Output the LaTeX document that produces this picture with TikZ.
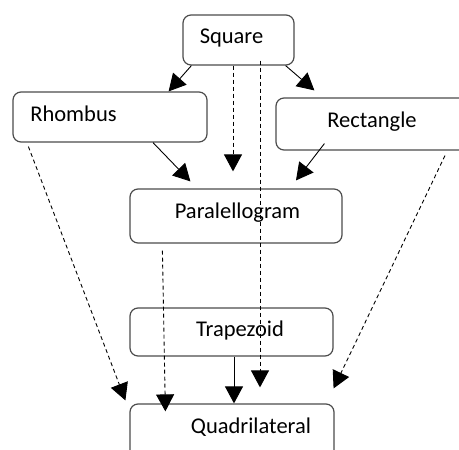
\documentclass[tikz,border=0pt]{standalone}
\usepackage{fontspec}
\setmainfont{Carlito}
\usetikzlibrary{calc,positioning,arrows.meta}

\begin{document}
\begin{tikzpicture}[x=1pt,y=-1pt,
  box/.style={rectangle, draw=black!70, line width=1.2pt, rounded corners=8pt, inner sep=0pt},
  lbl/.style={font=\fontsize{22.5}{27}\selectfont, text=black},
  arr/.style={-{Triangle[length=17pt,width=18pt]}, line width=0.9pt},
  darr/.style={arr, dash pattern=on 4pt off 3pt}]
  \useasboundingbox (0,0) rectangle (459,450);
  \clip (0,0) rectangle (459,450);
  \node [box, minimum width=111pt, minimum height=50pt, label={[lbl,xshift=-7pt,yshift=2pt]center:Square}] (sq) at (238.5,40) {};
  \node [box, minimum width=194pt, minimum height=50pt, label={[lbl,xshift=-36.5pt,yshift=3pt]center:Rhombus}] (rh) at (110,117) {};
  \node [box, minimum width=204pt, minimum height=52pt, label={[lbl,xshift=-6pt,yshift=2pt]center:Rectangle}] (rc) at (378,124) {};
  \node [box, minimum width=212pt, minimum height=54pt, label={[lbl,xshift=1.5pt,yshift=3pt]center:Paralellogram}] (pa) at (236,216) {};
  \node [box, minimum width=203pt, minimum height=48pt, label={[lbl,xshift=8.5pt,yshift=2pt]center:Trapezoid}] (tr) at (231.5,332) {};
  \node [box, minimum width=204pt, minimum height=76pt, label={[lbl,xshift=19pt,yshift=15pt]center:Quadrilateral}] (qu) at (232,442) {};
  % solid arrows
  \draw[arr] ($(sq.south west)+(9,0)$) -- ($(rh.north east)+(-39,0)$);
  \draw[arr] ($(sq.south east)+(-9,0)$) -- ($(rc.north west)+(39,-7)$);
  \draw[arr] ($(rh.south)+(43,0)$) -- ($(pa.north west)+(61,-7)$);
  \draw[arr] ($(rc.south west)+(49,-7)$) -- ($(pa.north)+(60,-8)$);
  \draw[arr] ($(tr.south)+(2.5,0)$) -- ($(qu.north)+(2,0)$);
  % dashed arrows
  \draw[darr] ($(sq.south)+(-5.5,0)$) -- ($(pa.north)+(-3,-17)$);
  \draw[darr] ($(sq.south)+(21.5,-5)$) -- ($(qu.north)+(28,-16)$);
  \draw[darr] ($(rh.south west)+(16,4)$) -- ($(qu.north west)+(-4,-3)$);
  \draw[darr] ($(pa.south west)+(33,7)$) -- ($(qu.north west)+(36,8)$);
  \draw[darr] ($(rc.south)+(67,5)$) -- ($(qu.north east)+(-1,-15)$);
\end{tikzpicture}
\end{document}
